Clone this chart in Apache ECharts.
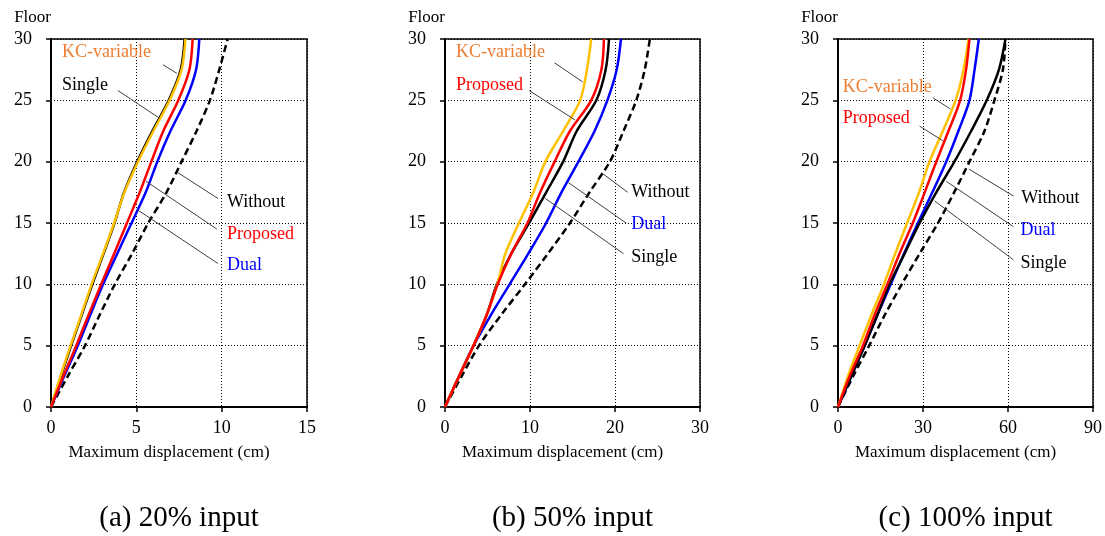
<!DOCTYPE html>
<html>
<head>
<meta charset="utf-8">
<script src="https://cdn.jsdelivr.net/npm/echarts@6/dist/echarts.min.js"></script>
<style>
  html, body { margin: 0; padding: 0; background: #fff; }
  #chart { width: 1105px; height: 536px; }
</style>
</head>
<body>
<div id="chart"></div>
<script>
// Storey levels shared by every profile
const floors = [0, 2.5, 5, 7.5, 10, 12.5, 15, 17.5, 20, 22.5, 25, 27.5, 30];

// (a) 20% input — maximum displacement (cm)
const withoutA  = [0, 0.98, 1.99, 2.85, 3.74, 4.75, 5.7, 6.77, 7.65, 8.53, 9.31, 9.86, 10.35];
const dualA     = [0, 0.77, 1.57, 2.3, 3.05, 3.88, 4.72, 5.55, 6.23, 7.0, 7.89, 8.5, 8.69];
const singleA   = [0, 0.58, 1.18, 1.8, 2.42, 3.08, 3.72, 4.28, 5.05, 5.94, 6.9, 7.6, 7.83];
const kcA       = [0, 0.55, 1.15, 1.77, 2.38, 3.05, 3.7, 4.3, 5.1, 6.0, 6.95, 7.65, 7.88];
const proposedA = [0, 0.72, 1.48, 2.2, 2.94, 3.7, 4.45, 5.2, 5.88, 6.58, 7.46, 8.11, 8.3];

// (b) 50% input
const withoutB  = [0, 1.95, 4.0, 6.6, 9.4, 12.1, 14.7, 17.0, 19.4, 21.0, 22.5, 23.5, 24.1];
const dualB     = [0, 1.65, 3.35, 5.4, 7.6, 9.8, 11.9, 13.7, 15.7, 17.6, 19.1, 20.2, 20.7];
const singleB   = [0, 1.65, 3.35, 4.9, 6.1, 7.8, 9.9, 11.9, 13.9, 15.5, 17.8, 18.9, 19.3];
const kcB       = [0, 1.65, 3.35, 4.9, 6.15, 7.1, 8.7, 10.4, 11.8, 13.9, 15.9, 16.7, 17.2];
const proposedB = [0, 1.65, 3.35, 4.9, 6.2, 7.8, 9.7, 11.2, 12.9, 14.7, 17.2, 18.4, 18.7];

// (c) 100% input
const withoutC  = [0, 5.3, 11.0, 16.5, 22.5, 28.8, 35.3, 41.0, 46.4, 51.7, 55.2, 58.2, 59.1];
const dualC     = [0, 4.7, 9.4, 13.9, 18.6, 23.3, 28.2, 33.3, 38.2, 42.5, 46.4, 48.2, 49.7];
const singleC   = [0, 4.7, 9.4, 13.9, 18.2, 23.5, 28.8, 34.7, 41.1, 47.0, 52.5, 56.8, 59.1];
const kcC       = [0, 3.5, 7.6, 11.8, 16.2, 20.2, 24.4, 28.6, 32.3, 37.0, 41.5, 44.3, 46.1];
const proposedC = [0, 4.1, 8.8, 12.9, 17.4, 21.7, 26.4, 30.6, 34.7, 39.0, 43.1, 45.2, 46.4];

// Axis ranges and captions
const xMax = [15, 30, 90];
const xStep = [5, 10, 30];
const yMax = 30;
const yStep = 5;
const captions = ['(a) 20% input', '(b) 50% input', '(c) 100% input'];
const xName = 'Maximum displacement (cm)';
const yName = 'Floor';

const FONT = "'Liberation Serif', 'Times New Roman', serif";
const C_KC = '#FFC000', C_KC_TEXT = '#ED7D31', C_RED = '#FF0000', C_BLUE = '#0000FF', C_BLACK = '#000000';

// Label placement (text anchor, leader start, leader end) in each panel's data units
const notes = [
  [
    ['KC-variable', C_KC_TEXT, [0.64, 28.9], [6.56, 27.9], [7.38, 27.2]],
    ['Single',      C_BLACK,   [0.64, 26.2], [3.92, 25.8], [6.35, 23.55]],
    ['Without',     C_BLACK,   [10.31, 16.7], [7.44, 19.1], [9.78, 17.0]],
    ['Proposed',    C_RED,     [10.31, 14.1], [5.57, 18.4], [9.72, 14.5]],
    ['Dual',        C_BLUE,    [10.31, 11.55], [5.04, 16.1], [9.78, 11.7]]
  ],
  [
    ['KC-variable', C_KC_TEXT, [1.29, 28.9], [12.9, 28.05], [16.2, 26.5]],
    ['Proposed',    C_RED,     [1.29, 26.2], [9.9, 25.8], [15.3, 23.4]],
    ['Without',     C_BLACK,   [21.9, 17.5], [18.4, 19.1], [21.5, 17.5]],
    ['Dual',        C_BLUE,    [21.9, 14.9], [14.5, 18.3], [21.3, 15.0]],
    ['Single',      C_BLACK,   [21.9, 12.2], [11.8, 17.0], [21.0, 12.5]]
  ],
  [
    ['KC-variable', C_KC_TEXT, [1.7, 26.1], [33.5, 25.2], [39.7, 24.3]],
    ['Proposed',    C_RED,     [1.7, 23.5], [28.8, 22.9], [37.0, 21.7]],
    ['Without',     C_BLACK,   [64.7, 17.05], [46.2, 19.4], [61.9, 17.2]],
    ['Dual',        C_BLUE,    [64.4, 14.4], [38.2, 18.4], [61.9, 14.7]],
    ['Single',      C_BLACK,   [64.4, 11.7], [34.1, 16.8], [61.9, 12.0]]
  ]
];

const panels = [
  { without: withoutA, dual: dualA, single: singleA, kc: kcA, proposed: proposedA },
  { without: withoutB, dual: dualB, single: singleB, kc: kcB, proposed: proposedB },
  { without: withoutC, dual: dualC, single: singleC, kc: kcC, proposed: proposedC }
];

const grids = [
  { left: 51,  top: 39, width: 256, height: 368 },
  { left: 445, top: 39, width: 255, height: 368 },
  { left: 838, top: 39, width: 255, height: 368 }
];

const toPoints = vals => floors.map((f, k) => [vals[k], f]);

const xAxes = [], yAxes = [], series = [], graphics = [];

grids.forEach((g, i) => {
  g.show = true;
  g.borderColor = '#000';
  g.borderWidth = 1.5;
  g.containLabel = false;

  xAxes.push({
    gridIndex: i, type: 'value', min: 0, max: xMax[i], interval: xStep[i],
    axisLine: { show: true, onZero: false, lineStyle: { color: '#000', width: 2 } },
    axisTick: { show: true, length: 5, lineStyle: { color: '#000', width: 1.5 } },
    axisLabel: { color: '#000', fontSize: 18, fontFamily: FONT, margin: 12 },
    splitLine: { show: true, lineStyle: { color: '#000', type: [1, 2], width: 1 } },
    name: xName, nameLocation: 'middle', nameGap: 46,
    nameTextStyle: { color: '#000', fontSize: 17, fontFamily: FONT, verticalAlign: 'middle', padding: [0, 20, 0, 0] }
  });
  yAxes.push({
    gridIndex: i, type: 'value', min: 0, max: yMax, interval: yStep,
    axisLine: { show: true, onZero: false, lineStyle: { color: '#000', width: 2 } },
    axisTick: { show: true, length: 5, lineStyle: { color: '#000', width: 1.5 } },
    axisLabel: { color: '#000', fontSize: 18, fontFamily: FONT, margin: 19 },
    splitLine: { show: true, lineStyle: { color: '#000', type: [1, 2], width: 1 } },
    name: yName, nameLocation: 'end', nameGap: 21,
    nameTextStyle: { color: '#000', fontSize: 17, fontFamily: FONT, align: 'right', verticalAlign: 'middle' }
  });

  const p = panels[i];
  const curve = (name, vals, color, dashed, z) => ({
    name, type: 'line', xAxisIndex: i, yAxisIndex: i,
    data: toPoints(vals), showSymbol: false, symbol: 'none',
    smooth: 0.3, silent: true, z,
    lineStyle: { color, width: 2.5, type: dashed ? [7, 4] : 'solid' }
  });
  series.push(curve('Without', p.without, C_BLACK, true, 2));
  series.push(curve('Dual', p.dual, C_BLUE, false, 3));
  series.push(curve('Single', p.single, C_BLACK, false, 4));
  series.push(curve('KC-variable', p.kc, C_KC, false, 5));
  series.push(curve('Proposed', p.proposed, C_RED, false, 6));

  // leader lines
  notes[i].forEach(n => {
    series.push({
      type: 'line', xAxisIndex: i, yAxisIndex: i, silent: true, z: 7,
      symbol: 'none', data: [n[3], n[4]],
      lineStyle: { color: '#404040', width: 1 }
    });
  });
  // series labels
  series.push({
    type: 'scatter', xAxisIndex: i, yAxisIndex: i, silent: true, z: 8,
    symbolSize: 0,
    itemStyle: { opacity: 1 },
    data: notes[i].map(n => ({ value: n[2], name: n[0], label: { color: n[1] } })),
    label: { show: true, position: 'right', distance: 0, formatter: '{b}', fontSize: 18, fontFamily: FONT, opacity: 1 }
  });

  graphics.push({
    type: 'text', x: g.left + g.width / 2, y: 518,
    style: { text: captions[i], font: "29px " + FONT, fill: '#000', align: 'center', verticalAlign: 'middle' }
  });
});

const chart = echarts.init(document.getElementById('chart'), null, { renderer: 'canvas' });
chart.setOption({
  animation: false,
  backgroundColor: '#fff',
  grid: grids,
  xAxis: xAxes,
  yAxis: yAxes,
  series: series,
  graphic: graphics
});
</script>
</body>
</html>
